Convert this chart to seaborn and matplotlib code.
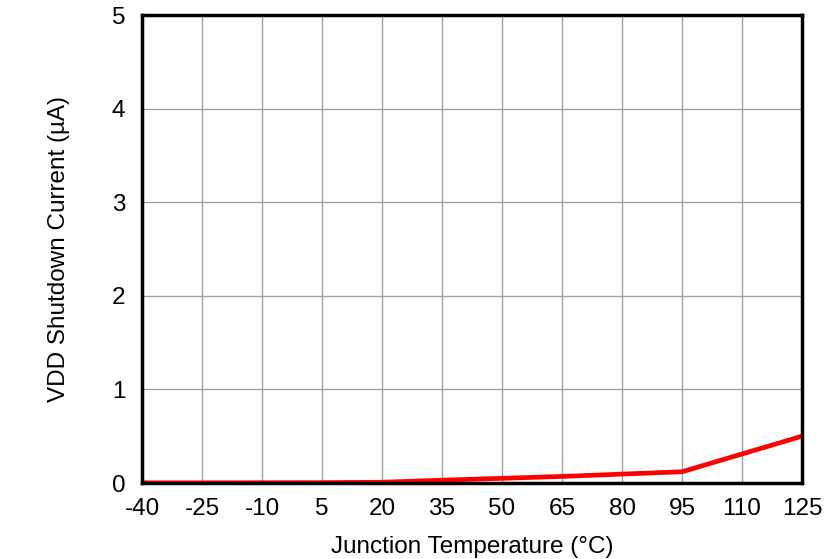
import matplotlib
matplotlib.use("Agg")
import matplotlib.pyplot as plt
import seaborn as sns
import pandas as pd

temps = [-40, -25, -10, 5, 20, 35, 50, 65, 80, 95, 110, 125]
current = [0.002, 0.002, 0.003, 0.004, 0.008, 0.03, 0.05, 0.07, 0.095, 0.12, 0.31, 0.50]
xticks = [-40, -25, -10, 5, 20, 35, 50, 65, 80, 95, 110, 125]
yticks = [0, 1, 2, 3, 4, 5]

sns.set_theme(style="white")
plt.rcParams['font.family'] = ['Liberation Sans', 'DejaVu Sans']
plt.rcParams['axes.unicode_minus'] = False

df = pd.DataFrame({"temp": temps, "current": current})

fig = plt.figure(figsize=(8.39, 5.59), dpi=100)
ax = fig.add_axes([142 / 839, 1 - 483 / 559, 660 / 839, 468 / 559])

sns.lineplot(data=df, x="temp", y="current", color="#ff0000", linewidth=3.4, ax=ax)

ax.set_xlim(-40, 125)
ax.set_ylim(0, 5)
ax.set_xticks(xticks)
ax.set_yticks(yticks)
ax.grid(True, color="#a0a0a0", linewidth=1)
ax.set_axisbelow(True)
for s in ax.spines.values():
    s.set_color("black")
    s.set_linewidth(2.5)
ax.tick_params(axis="both", labelsize=17.5, length=0, colors="black")
ax.tick_params(axis="x", pad=11)
ax.tick_params(axis="y", pad=12)
ax.set_xlabel("Junction Temperature (°C)", fontsize=17.5, color="black", labelpad=11)
ax.set_ylabel("VDD Shutdown Current (µA)", fontsize=17.5, color="black", labelpad=30)

fig.savefig("out.png", dpi=100)
